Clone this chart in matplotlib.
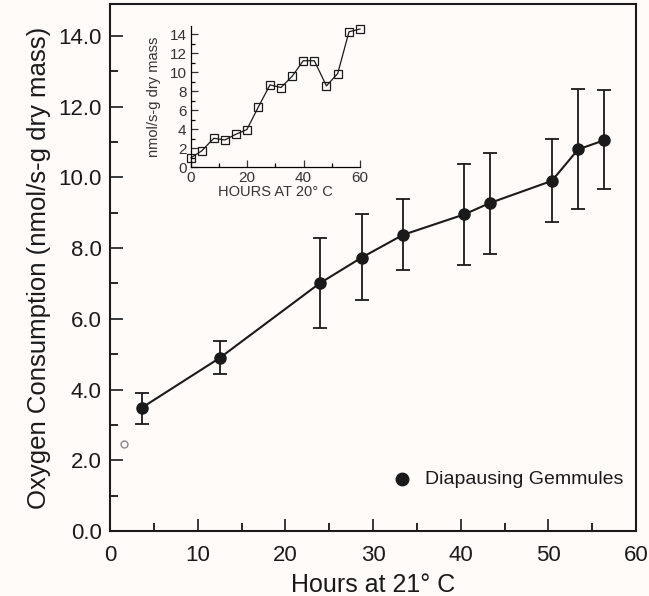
import matplotlib
matplotlib.use("Agg")
import matplotlib.pyplot as plt
import numpy as np

plt.rcParams["font.family"] = ["Liberation Sans", "DejaVu Sans"]

BG = "#fefbf9"
INK = "#1a1a1a"

# main panel: oxygen consumption vs hours at 21 C
hours = [3.6, 12.5, 23.9, 28.7, 33.4, 40.4, 43.3, 50.4, 53.4, 56.4]
o2 = [3.48, 4.89, 7.00, 7.73, 8.37, 8.95, 9.27, 9.90, 10.79, 11.05]
err_hi = [3.91, 5.37, 8.27, 8.95, 9.38, 10.38, 10.69, 11.07, 12.49, 12.47]
err_lo = [3.02, 4.43, 5.73, 6.52, 7.38, 7.51, 7.83, 8.73, 9.09, 9.66]

start_hour, start_o2 = [1.6], [2.46]
diapause_hour, diapause_o2 = [33.3], [1.46]

# inset: hours at 20 C
in_hours = [0.1, 3.9, 8.2, 12.1, 16.0, 19.9, 24.0, 28.1, 32.0, 36.0,
            39.9, 43.8, 48.1, 52.1, 56.1, 60.0]
in_o2 = [1.0, 1.72, 3.05, 2.87, 3.47, 3.96, 6.35, 8.66, 8.38, 9.58,
         11.2, 11.2, 8.56, 9.85, 14.24, 14.53]

fig = plt.figure(figsize=(6.49, 5.96), dpi=100)
fig.patch.set_facecolor(BG)
ax = fig.add_axes([0.1695, 0.1091, 0.8105, 0.8842])
ax.set_facecolor(BG)

yerr = [np.array(o2) - np.array(err_lo), np.array(err_hi) - np.array(o2)]
ax.errorbar(hours, o2, yerr=yerr, fmt="o-", color=INK, ms=8, lw=1.5,
            elinewidth=1.3, capsize=5, capthick=1.3, zorder=3)
ax.plot(start_hour, start_o2, "o", ms=5, mfc="none", mec="#888888", mew=1.0)
ax.plot(diapause_hour, diapause_o2, "o", ms=9, color=INK)
ax.text(diapause_hour[0] + 2.6, diapause_o2[0], "Diapausing Gemmules",
        fontsize=14, va="center", color=INK)

ax.set_xlim(0, 60)
ax.set_ylim(0, 14.9)
ax.set_xticks(np.arange(0, 61, 10))
ax.set_xticks(np.arange(5, 60, 10), minor=True)
ax.set_yticks(np.arange(0, 15, 2))
ax.set_yticks(np.arange(1, 15, 2), minor=True)
ax.set_yticklabels([f"{v:.1f}" for v in np.arange(0, 15, 2)])
ax.tick_params(direction="in", length=9, width=1.2, labelsize=16, colors=INK)
ax.tick_params(axis="x", pad=10)
ax.tick_params(axis="y", pad=6)
ax.tick_params(which="minor", direction="in", length=6, width=1.2)
ax.set_xlabel("Hours at 21\u00b0 C", fontsize=18, color=INK, labelpad=5)
ax.set_ylabel("Oxygen Consumption (nmol/s-g dry mass)", fontsize=18.5, color=INK, labelpad=5)
for s in ax.spines.values():
    s.set_linewidth(1.5)
    s.set_color(INK)

# inset
ins = fig.add_axes([0.2938, 0.7193, 0.2609, 0.2379])
ins.set_facecolor("none")
ins.plot(in_hours, in_o2, "s-", color=INK, ms=5.5, mfc="none", mew=0.9, lw=0.9,
         clip_on=False)
ins.set_xlim(0, 60)
ins.set_ylim(0, 14.9)
ins.set_xticks([0, 20, 40, 60])
ins.set_xticks([10, 30, 50], minor=True)
ins.set_yticks(np.arange(0, 15, 2))
ins.set_yticks(np.arange(1, 15, 2), minor=True)
ins.tick_params(direction="in", length=5, width=0.9, labelsize=11, colors="#333333", pad=3)
ins.tick_params(which="minor", direction="in", length=3, width=0.9)
ins.spines[["top", "right"]].set_visible(False)
for s in ("left", "bottom"):
    ins.spines[s].set_linewidth(0.9)
ins.set_xlabel("HOURS AT 20\u00b0 C", fontsize=10.5, color="#333333", labelpad=0)
ins.set_ylabel("nmol/s-g dry mass", fontsize=10.5, color="#333333", labelpad=6)

fig.savefig("out.png", dpi=100, facecolor=BG)
